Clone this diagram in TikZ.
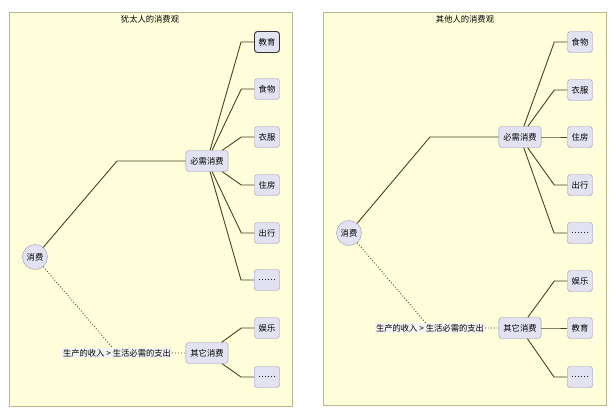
\documentclass[tikz,border=0pt]{standalone}
\usepackage{fontspec}
\setmainfont{Noto Sans CJK SC}
\usepackage{tikz}
\usetikzlibrary{positioning}
\definecolor{panelbg}{RGB}{254,254,218}
\definecolor{panelline}{RGB}{184,184,140}
\definecolor{boxfill}{RGB}{226,226,242}
\definecolor{boxline}{RGB}{150,150,186}
\definecolor{edgecol}{RGB}{72,68,38}

\begin{document}
\begin{tikzpicture}[x=1pt,y=-1pt,
    leaf/.style={rectangle,rounded corners=3pt,draw=boxline,fill=boxfill,minimum height=21pt,minimum width=25pt,inner xsep=4pt,inner ysep=0pt,font=\fontsize{8.3}{9}\selectfont},
    hub/.style={leaf,inner xsep=4.5pt},
    root/.style={circle,draw=boxline,fill=boxfill,minimum size=25pt,inner sep=0pt,font=\fontsize{8.3}{9}\selectfont},
    frame/.style={draw=panelline,fill=panelbg,line width=0.6pt},
    edge/.style={draw=edgecol,line width=0.9pt},
    cond/.style={fill=black!5,inner sep=1pt,font=\fontsize{8.3}{9}\selectfont}]
    \fill[white] (0,0) rectangle (616,418);

    % --- left: 犹太人 ---
    \draw[frame] (9,12) rectangle (292,406);
    \node[font=\fontsize{8.3}{9}\selectfont] (T1) at (150,19) {犹太人的消费观};
    \node[root] (R1) at (35,257) {消费};
    \node[hub] (N1) at (207,161) {必需消费};
    \node[hub] (O1) at (207,353) {其它消费};
    \node[leaf,draw=black!80,line width=0.9pt] (A1) at (267,42) {教育};
    \node[leaf] (B1) at (267,89) {食物};
    \node[leaf] (C1) at (267,137) {衣服};
    \node[leaf] (D1) at (267,185) {住房};
    \node[leaf] (E1) at (267,233) {出行};
    \node[leaf] (F1) at (267,280) {……};
    \node[leaf] (G1) at (267,328) {娱乐};
    \node[leaf] (H1) at (267,377) {……};
    \coordinate (k1) at (117,161);
    \draw[edge] (R1) -- (k1) -- (N1);
    \node[cond] (L1) at (117,353) {生产的收入 > 生活必需的支出};
    \draw[edge,dotted] (R1) -- (L1) (L1) -- (O1);
    \foreach \c in {A1,B1,C1,D1,E1,F1}
        \draw[edge] (N1) -- ([xshift=-13pt]\c.west) -- (\c);
    \foreach \c in {G1,H1}
        \draw[edge] (O1) -- ([xshift=-13pt]\c.west) -- (\c);

    % --- right: 其他人 ---
    \draw[frame] (323,12) rectangle (606,405);
    \node[font=\fontsize{8.3}{9}\selectfont] (T2) at (465,19) {其他人的消费观};
    \node[root] (R2) at (349,233) {消费};
    \node[hub] (N2) at (520,137) {必需消费};
    \node[hub] (O2) at (520,328) {其它消费};
    \node[leaf] (A2) at (580,42) {食物};
    \node[leaf] (B2) at (580,90) {衣服};
    \node[leaf] (C2) at (580,137) {住房};
    \node[leaf] (D2) at (580,185) {出行};
    \node[leaf] (E2) at (580,233) {……};
    \node[leaf] (F2) at (580,281) {娱乐};
    \node[leaf] (G2) at (580,328) {教育};
    \node[leaf] (H2) at (580,377) {……};
    \coordinate (k2) at (430,137);
    \draw[edge] (R2) -- (k2) -- (N2);
    \node[cond] (L2) at (430,328) {生产的收入 > 生活必需的支出};
    \draw[edge,dotted] (R2) -- (L2) (L2) -- (O2);
    \foreach \c in {A2,B2,C2,D2,E2}
        \draw[edge] (N2) -- ([xshift=-13pt]\c.west) -- (\c);
    \foreach \c in {F2,G2,H2}
        \draw[edge] (O2) -- ([xshift=-13pt]\c.west) -- (\c);
\end{tikzpicture}
\end{document}
